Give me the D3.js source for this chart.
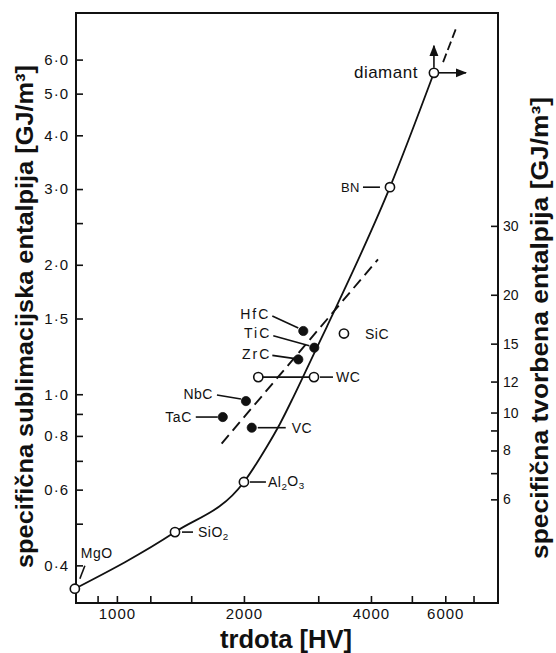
<!DOCTYPE html>
<html><head><meta charset="utf-8">
<script src="https://cdn.jsdelivr.net/npm/d3@7"></script>
<style>
body{margin:0;background:#fff}
svg{display:block}
text{font-family:"Liberation Sans",Arial,sans-serif;fill:#111}
</style>
</head><body><svg id="c" width="556" height="653"></svg>
<script>
// ---- data ----
const compounds = ["MgO","SiO2","Al2O3","VC","TaC","NbC","ZrC","TiC","HfC","SiC","BN","diamant"];
const hardness  = [795,1373,2000,2087,1782,2022,2691,2936,2765,3452,4437,5640];
const enthalpy  = [0.353,0.478,0.625,0.836,0.885,0.964,1.205,1.283,1.403,1.384,3.03,5.59];
const filled    = [false,false,false,true,true,true,true,true,true,false,false,false];
const wcName = "WC";
const wcHardness = [2163, 2931];
const wcEnthalpy = 1.096;
const curveH = [795,1373,2000,2264,2435,2619,2868,3142,4437,5640];
const curveV = [0.353,0.478,0.625,0.754,0.854,0.985,1.188,1.433,3.03,5.59];
const extH = [5929,6384];
const extV = [5.92,7.15];
const trendH = [1771,4156];
const trendV = [0.768,2.059];
const xTicks = [900,1000,1200,1500,2000,3000,4000,5000,6000,7000];
const xTickLabels = [1000,2000,4000,6000];
const yTicks = [0.4,0.5,0.6,0.7,0.8,0.9,1.0,1.5,2.0,2.5,3.0,4.0,5.0,6.0];
const yTickLabels = [0.4,0.6,0.8,1.0,1.5,2.0,3.0,4.0,5.0,6.0];
const y2Ticks = [6,7,8,9,10,12,15,20,30];
const y2TickLabels = [6,8,10,12,15,20,30];
const xTitle = "trdota [HV]";
const yTitle = "specifična sublimacijska entalpija [GJ/m³]";
const y2Title = "specifična tvorbena entalpija [GJ/m³]";

// ---- layout (label offsets, pixels relative to point) ----
const labelLayout = {
  MgO:   {parts:[["MgO",0]], dx:6,  dy:-36, anchor:"start", leader:[[10,-23],[5,-10]], size:14},
  SiO2:  {parts:[["SiO",0],["2",1]], dx:23, dy:0, anchor:"start", leader:[[7,0],[18,0]], size:14},
  Al2O3: {parts:[["Al",0],["2",1],["O",0],["3",1]], dx:24, dy:0, anchor:"start", leader:[[6,0],[22,0]], size:14},
  VC:    {parts:[["VC",0]], dx:40, dy:0, anchor:"start", leader:[[6,0],[34,0]], size:14},
  TaC:   {parts:[["TaC",0]], dx:-31, dy:0, anchor:"end", leader:[[-5,0],[-27,0]], size:14},
  NbC:   {parts:[["NbC",0]], dx:-33, dy:-7, anchor:"end", leader:[[-5,-2],[-29,-6]], size:14},
  ZrC:   {parts:[["ZrC",0]], dx:-27, dy:-5, anchor:"end", leader:[[-5,-1],[-26,-4]], size:14, ls:2},
  TiC:   {parts:[["TiC",0]], dx:-43, dy:-14.6, anchor:"end", leader:[[-5,-2],[-41,-12]], size:14, ls:2},
  HfC:   {parts:[["HfC",0]], dx:-33, dy:-16.7, anchor:"end", leader:[[-5,-3],[-31,-15]], size:14, ls:2},
  SiC:   {parts:[["SiC",0]], dx:21, dy:0, anchor:"start", leader:null, size:14},
  BN:    {parts:[["BN",0]], dx:-30, dy:0, anchor:"end", leader:[[-10,0],[-27,0]], size:13},
  diamant:{parts:[["diamant",0]], dx:-16, dy:-1, anchor:"end", leader:null, size:17}
};
const wcLayout = {dx:22, dy:0, leader:[[6,0],[19,0]], size:14};

const W = 556, H = 653;
const L = 76, R = 498, T = 13, B = 603;
const svg = d3.select("#c");
svg.append("rect").attr("width",W).attr("height",H).attr("fill","#fff");

const x  = d3.scaleLog().domain([800, 8000]).range([L, R]);
const y  = d3.scaleLog().domain([0.327, 7.7]).range([B, T]);
const y2 = d3.scaleLog().domain([3.26, 105]).range([B, T]);

const ink = "#111";

// axes
function styleAxis(g, size, ls){
  g.select(".domain").remove();
  g.selectAll(".tick line").attr("stroke", ink).attr("stroke-width", 1.6);
  g.selectAll(".tick text").attr("fill", ink).attr("font-size", size)
    .attr("font-family", '"Liberation Sans",Arial,sans-serif')
    .attr("letter-spacing", ls);
}
svg.append("g").attr("transform",`translate(${L},0)`)
  .call(d3.axisLeft(y).tickValues(yTicks).tickSize(-7).tickPadding(7)
    .tickFormat(d => yTickLabels.includes(d) ? d.toFixed(1).replace(".","·") : ""))
  .call(g => styleAxis(g, 15, 1));
svg.append("g").attr("transform",`translate(0,${B})`)
  .call(d3.axisBottom(x).tickValues(xTicks).tickSize(-7).tickPadding(5)
    .tickFormat(d => xTickLabels.includes(d) ? String(d) : ""))
  .call(g => styleAxis(g, 15, 1));
svg.append("g").attr("transform",`translate(${R},0)`)
  .call(d3.axisRight(y2).tickValues(y2Ticks).tickSize(-7).tickPadding(5)
    .tickFormat(d => y2TickLabels.includes(d) ? String(d) : ""))
  .call(g => styleAxis(g, 14, 0));

// frame
svg.append("path").attr("d",`M${L},${T}H${R}V${B}H${L}Z`)
  .attr("fill","none").attr("stroke",ink).attr("stroke-width",2);

// titles
svg.append("text").attr("transform",`translate(33,316.5) rotate(-90)`)
  .attr("text-anchor","middle").attr("font-size",24).attr("font-weight","bold")
  .attr("textLength",503).attr("lengthAdjust","spacingAndGlyphs").text(yTitle);
svg.append("text").attr("transform",`translate(548,328) rotate(-90)`)
  .attr("text-anchor","middle").attr("font-size",23).attr("font-weight","bold")
  .attr("textLength",462).attr("lengthAdjust","spacingAndGlyphs").text(y2Title);
svg.append("text").attr("x",286).attr("y",648)
  .attr("text-anchor","middle").attr("font-size",25).attr("font-weight","bold")
  .attr("textLength",132).attr("lengthAdjust","spacingAndGlyphs").text(xTitle);

// curves
const line = d3.line().x(d=>x(d[0])).y(d=>y(d[1])).curve(d3.curveMonotoneX);
const lineStraight = d3.line().x(d=>x(d[0])).y(d=>y(d[1]));
svg.append("path").attr("d", line(curveH.map((h,i)=>[h,curveV[i]])))
  .attr("fill","none").attr("stroke",ink).attr("stroke-width",1.8);
svg.append("path").attr("d", lineStraight(extH.map((h,i)=>[h,extV[i]])))
  .attr("fill","none").attr("stroke",ink).attr("stroke-width",1.8).attr("stroke-dasharray","9,4");
svg.append("path").attr("d", lineStraight(trendH.map((h,i)=>[h,trendV[i]])))
  .attr("fill","none").attr("stroke",ink).attr("stroke-width",1.9).attr("stroke-dasharray","11,6");

// WC range
svg.append("line").attr("x1",x(wcHardness[0])).attr("x2",x(wcHardness[1]))
  .attr("y1",y(wcEnthalpy)).attr("y2",y(wcEnthalpy)).attr("stroke",ink).attr("stroke-width",1.6);

// arrow marker
const defs = svg.append("defs");
defs.append("marker").attr("id","arr").attr("viewBox","0 0 10 10").attr("refX",9).attr("refY",5)
  .attr("markerWidth",7).attr("markerHeight",7).attr("orient","auto")
  .append("path").attr("d","M0,1 L10,5 L0,9 Z").attr("fill",ink);

// points
const pts = compounds.map((c,i)=>({name:c, px:x(hardness[i]), py:y(enthalpy[i]), filled:filled[i]}));
wcHardness.forEach(h => pts.push({name:null, px:x(h), py:y(wcEnthalpy), filled:false}));

// diamant arrows
const dia = pts.find(p=>p.name==="diamant");
svg.append("line").attr("x1",dia.px).attr("y1",dia.py-5).attr("x2",dia.px).attr("y2",dia.py-27)
  .attr("stroke",ink).attr("stroke-width",1.6).attr("marker-end","url(#arr)");
svg.append("line").attr("x1",dia.px+5).attr("y1",dia.py).attr("x2",dia.px+32).attr("y2",dia.py)
  .attr("stroke",ink).attr("stroke-width",1.6).attr("marker-end","url(#arr)");

svg.append("g").selectAll("circle").data(pts).join("circle")
  .attr("cx",d=>d.px).attr("cy",d=>d.py).attr("r",4.6)
  .attr("fill",d=>d.filled?ink:"#fff").attr("stroke",ink).attr("stroke-width",d=>d.filled?0.8:1.6);

// labels
function drawLeader(px, py, lay){
  if (lay.leader){
    svg.append("line").attr("x1",px+lay.leader[0][0]).attr("y1",py+lay.leader[0][1])
      .attr("x2",px+lay.leader[1][0]).attr("y2",py+lay.leader[1][1])
      .attr("stroke",ink).attr("stroke-width",1.6);
  }
}
pts.filter(p=>p.name).forEach(p=>{
  const lay = labelLayout[p.name];
  drawLeader(p.px, p.py, lay);
  const t = svg.append("text").attr("x",p.px+lay.dx).attr("y",p.py+lay.dy)
    .attr("dy","0.36em").attr("text-anchor",lay.anchor).attr("font-size",lay.size)
    .attr("letter-spacing", lay.ls||0.5);
  let prevSub = false;
  lay.parts.forEach(([s,sub])=>{
    const ts = t.append("tspan").text(s);
    if (sub){ ts.attr("font-size",lay.size*0.7).attr("dy", prevSub? null : "0.3em"); }
    else if (prevSub){ ts.attr("dy","-0.3em"); }
    prevSub = !!sub;
  });
});
// WC label
{
  const px = x(wcHardness[1]), py = y(wcEnthalpy);
  drawLeader(px, py, wcLayout);
  svg.append("text").attr("x",px+wcLayout.dx).attr("y",py+wcLayout.dy).attr("dy","0.36em")
    .attr("font-size",wcLayout.size).attr("letter-spacing",0.5).text(wcName);
}
</script>
</body></html>
